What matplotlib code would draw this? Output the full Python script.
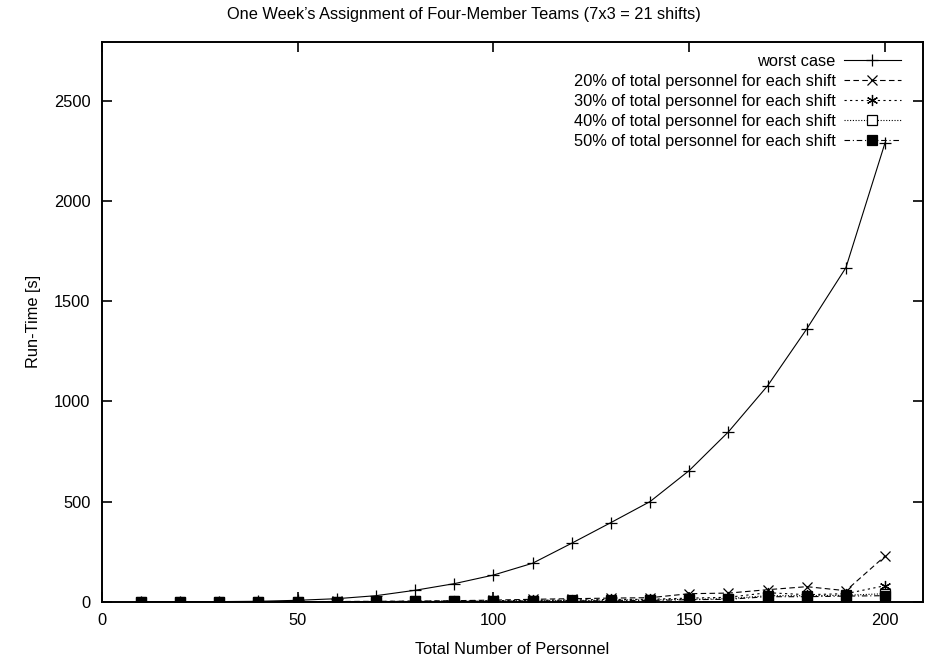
import matplotlib
matplotlib.use("Agg")
import matplotlib.pyplot as plt

plt.rcParams['font.family'] = ['Liberation Sans', 'DejaVu Sans']

# Number of personnel (x axis)
personnel = [10, 20, 30, 40, 50, 60, 70, 80, 90, 100,
             110, 120, 130, 140, 150, 160, 170, 180, 190, 200]

# Run-time in seconds for each configuration
worst_case = [0, 0, 0.5, 2, 7, 15, 30, 57, 90, 133,
              192, 292, 395, 500, 655, 848, 1078, 1362, 1668, 2292]
pct20 = [0, 0, 0, 0.2, 0.5, 1, 2, 3, 5, 8,
         12, 15, 18, 20, 40, 43, 60, 75, 55, 228]
pct30 = [0, 0, 0, 0.1, 0.3, 0.6, 1, 2, 3, 5,
         7, 9, 11, 12, 18, 22, 45, 35, 40, 80]
pct40 = [0, 0, 0, 0.1, 0.2, 0.4, 0.7, 1, 2, 3,
         5, 6, 8, 9, 12, 15, 30, 30, 32, 40]
pct50 = [0, 0, 0, 0, 0.1, 0.3, 0.5, 1, 1.5, 2,
         3, 4, 5, 6, 10, 12, 25, 25, 28, 30]

labels = ["worst case",
          "20% of total personnel for each shift",
          "30% of total personnel for each shift",
          "40% of total personnel for each shift",
          "50% of total personnel for each shift"]

x_ticks = [0, 50, 100, 150, 200]
y_ticks = [0, 500, 1000, 1500, 2000, 2500]

FS = 11.8
W, H = 928, 661
fig = plt.figure(figsize=(W / 100, H / 100), dpi=100)
left, right, bottom, top = 101.7, 922.7, 601.7, 41.7
ax = fig.add_axes([left / W, 1 - bottom / H, (right - left) / W, (bottom - top) / H])

lw = 0.8
ax.plot(personnel, worst_case, color='black', lw=lw, marker='+', ms=8, mew=0.9,
        label=labels[0])
ax.plot(personnel, pct20, color='black', lw=lw, linestyle=(0, (5, 3)), marker='x',
        ms=6.5, mew=0.9, label=labels[1])
ax.plot(personnel, pct30, color='black', lw=lw, linestyle=(0, (2, 3)), marker=(6, 2, 0),
        ms=8, mew=0.9, label=labels[2])
ax.plot(personnel, pct40, color='black', lw=lw, linestyle=(0, (1, 1.5)), marker='s',
        ms=7, mew=0.9, mfc='white', label=labels[3])
ax.plot(personnel, pct50, color='black', lw=lw, linestyle=(0, (5, 2.5, 1, 2.5)), marker='s',
        ms=7, mew=0.9, mfc='black', label=labels[4])

ax.set_xlim(0, 209.6)
ax.set_ylim(0, 2796)
ax.set_xticks(x_ticks)
ax.set_yticks(y_ticks)
ax.tick_params(direction='in', length=7, width=1.2, top=True, right=True,
               labelsize=FS, pad=8)
for s in ax.spines.values():
    s.set_linewidth(1.4)

ax.set_xlabel("Total Number of Personnel", fontsize=FS, labelpad=10)
ax.set_ylabel("Run-Time [s]", fontsize=FS, labelpad=9)
fig.text(0.5, 1 - 14 / H,
         "One Week\u2019s Assignment of Four-Member Teams (7x3 = 21 shifts)",
         ha='center', va='center', fontsize=FS)

leg = ax.legend(loc='upper right', bbox_to_anchor=(901 / W, 1 - 54 / H),
                bbox_transform=fig.transFigure, frameon=False, markerfirst=False,
                fontsize=FS, handlelength=3.5, handletextpad=0.5,
                labelspacing=0.3, borderpad=0, borderaxespad=0)
for t in leg.get_texts():
    t.set_ha('right')

fig.savefig("out.png", dpi=100)
